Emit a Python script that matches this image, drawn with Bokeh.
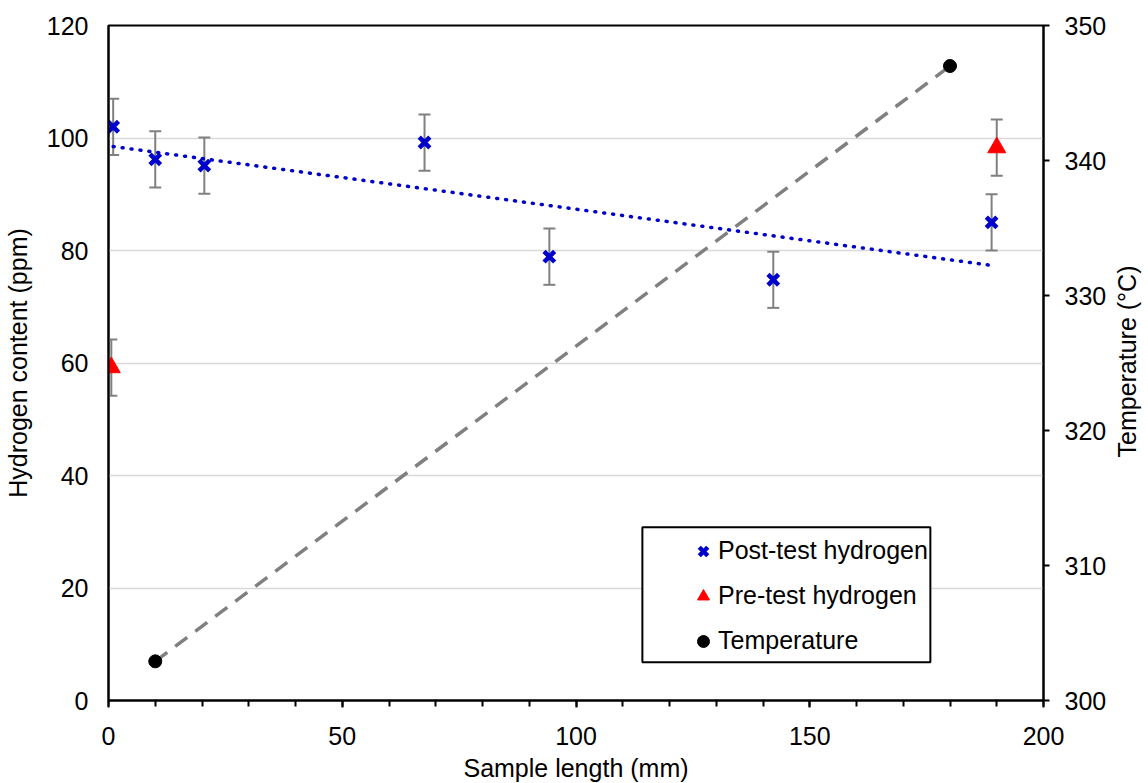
import math
import numpy as np
from bokeh.plotting import figure
from bokeh.models import (Range1d, LinearAxis, FixedTicker, Whisker, TeeHead,
                          ColumnDataSource, Legend, LegendItem, BoxAnnotation)
from bokeh.embed import file_html
from bokeh.resources import INLINE

# ---- data ----
post_x = [1.0, 10.0, 20.5, 67.6, 94.3, 142.2, 188.9]
post_y = [102.0, 96.2, 95.1, 99.2, 78.9, 74.8, 85.0]
post_err = [5, 5, 5, 5, 5, 5, 5]

pre_x = [0.6, 190.0]
pre_y = [59.2, 98.3]
pre_err = [5, 5]

temp_x = [10.0, 180.0]
temp_y = [302.9, 347.0]

x_ticks = [0, 50, 100, 150, 200]
x_minor_ticks = [0, 10, 20, 30, 40, 50, 60, 70, 80, 90, 100, 110, 120, 130, 140, 150, 160, 170, 180, 190, 200]
y_ticks = [0, 20, 40, 60, 80, 100, 120]
t_ticks = [300, 310, 320, 330, 340, 350]

labels = ["Post-test hydrogen", "Pre-test hydrogen", "Temperature"]
right_title = "Temperature (°C)"
# anchor (in °C) where the bottom-to-top right title starts, so it sits centred
right_title_anchor = 318

FONT = "Liberation Sans"
BLUE = "#0000CC"
RED = "#FF0000"
GRAY = "#808080"

p = figure(frame_width=935, frame_height=675,
           x_range=Range1d(0, 200), y_range=Range1d(0, 120),
           output_backend="svg", toolbar_location=None,
           min_border_left=100, min_border_right=90,
           min_border_top=25, min_border_bottom=83)
p.extra_y_ranges = {"temp": Range1d(300, 350)}

p.background_fill_color = "white"
p.border_fill_color = "white"
p.outline_line_color = "black"
p.outline_line_width = 2

# grid
p.xgrid.visible = False
p.ygrid.ticker = FixedTicker(ticks=y_ticks)
p.ygrid.grid_line_color = "#D9D9D9"
p.ygrid.grid_line_width = 1.5

# bottom axis
xa = p.xaxis[0]
xa.ticker = FixedTicker(ticks=x_ticks, minor_ticks=x_minor_ticks)
xa.axis_label = "Sample length (mm)"
xa.axis_line_color = "black"
xa.axis_line_width = 2
xa.major_tick_in = 0
xa.major_tick_out = 7
xa.minor_tick_in = 0
xa.minor_tick_out = 6
xa.major_tick_line_width = 2
xa.minor_tick_line_width = 2
xa.major_tick_line_color = "black"
xa.minor_tick_line_color = "black"
xa.major_label_standoff = 19
xa.axis_label_standoff = 6

# left axis
ya = p.yaxis[0]
ya.ticker = FixedTicker(ticks=y_ticks)
ya.axis_label = "Hydrogen content (ppm)"
ya.axis_line_color = "black"
ya.axis_line_width = 2
ya.major_tick_in = 0
ya.major_tick_out = 0
ya.minor_tick_in = 0
ya.minor_tick_out = 0
ya.major_label_standoff = 20
ya.axis_label_standoff = 12

# right axis
ra = LinearAxis(y_range_name="temp", ticker=FixedTicker(ticks=t_ticks))
ra.axis_line_color = "black"
ra.axis_line_width = 2
ra.major_tick_in = 0
ra.major_tick_out = 6
ra.minor_tick_in = 0
ra.minor_tick_out = 0
ra.major_tick_line_width = 2
ra.major_tick_line_color = "black"
ra.major_label_standoff = 15
p.add_layout(ra, "right")

# right axis title (bottom-to-top), carried by a bare outer axis
ta = LinearAxis(y_range_name="temp",
                ticker=FixedTicker(ticks=[right_title_anchor]),
                major_label_overrides={right_title_anchor: right_title})
ta.axis_line_alpha = 0
ta.major_tick_in = 0
ta.major_tick_out = 0
ta.minor_tick_in = 0
ta.minor_tick_out = 0
ta.major_label_orientation = math.pi / 2
ta.major_label_standoff = 17
p.add_layout(ta, "right")

for ax in (xa, ya, ra, ta):
    ax.major_label_text_font = FONT
    ax.major_label_text_font_size = "25px"
    ax.major_label_text_color = "black"
    ax.axis_label_text_font = FONT
    ax.axis_label_text_font_size = "25px"
    ax.axis_label_text_font_style = "normal"
    ax.axis_label_text_color = "black"

# temperature dashed line
src_t = ColumnDataSource(dict(x=temp_x, y=temp_y))
p.line("x", "y", source=src_t, y_range_name="temp", line_color=GRAY,
       line_width=3.5, line_dash="15 10")

# linear trend of post-test hydrogen
slope, intercept = np.polyfit(post_x, post_y, 1)
trend_x = [min(post_x), max(post_x)]
trend_y = [slope * v + intercept for v in trend_x]
p.line(trend_x, trend_y, line_color=BLUE, line_width=3.5, line_dash="1 8",
       line_cap="round")

# error bars
src_post = ColumnDataSource(dict(x=post_x, y=post_y,
                                 lo=[a - b for a, b in zip(post_y, post_err)],
                                 hi=[a + b for a, b in zip(post_y, post_err)]))
src_pre = ColumnDataSource(dict(x=pre_x, y=pre_y,
                                lo=[a - b for a, b in zip(pre_y, pre_err)],
                                hi=[a + b for a, b in zip(pre_y, pre_err)]))
for s in (src_post, src_pre):
    w = Whisker(source=s, base="x", lower="lo", upper="hi",
                line_color=GRAY, line_width=2,
                upper_head=TeeHead(size=12, line_color=GRAY, line_width=2),
                lower_head=TeeHead(size=12, line_color=GRAY, line_width=2))
    p.add_layout(w)

r_post = p.scatter("x", "y", source=src_post, marker="x", size=15,
                   line_color=BLUE, line_width=4.5)
r_pre = p.scatter("x", "y", source=src_pre, marker="triangle", size=18,
                  fill_color=RED, line_color=RED)
r_temp = p.scatter("x", "y", source=src_t, y_range_name="temp", marker="circle",
                   size=13, fill_color="black", line_color="black")

# legend frame
box = BoxAnnotation(left=114.2, right=175.8, bottom=6.8, top=30.8,
                    fill_color="white", fill_alpha=1.0,
                    line_color="black", line_alpha=1.0, line_width=2)
p.add_layout(box)

legend = Legend(items=[LegendItem(label=labels[0], renderers=[r_post]),
                       LegendItem(label=labels[1], renderers=[r_pre]),
                       LegendItem(label=labels[2], renderers=[r_temp])],
                location=(580, 37), border_line_alpha=0,
                background_fill_alpha=0, padding=0, spacing=0, margin=0,
                label_height=45, glyph_height=30, glyph_width=30,
                label_standoff=0, label_text_font=FONT,
                label_text_font_size="25px", label_text_color="black")
p.add_layout(legend)

open("out.html", "w").write(file_html(p, INLINE))
